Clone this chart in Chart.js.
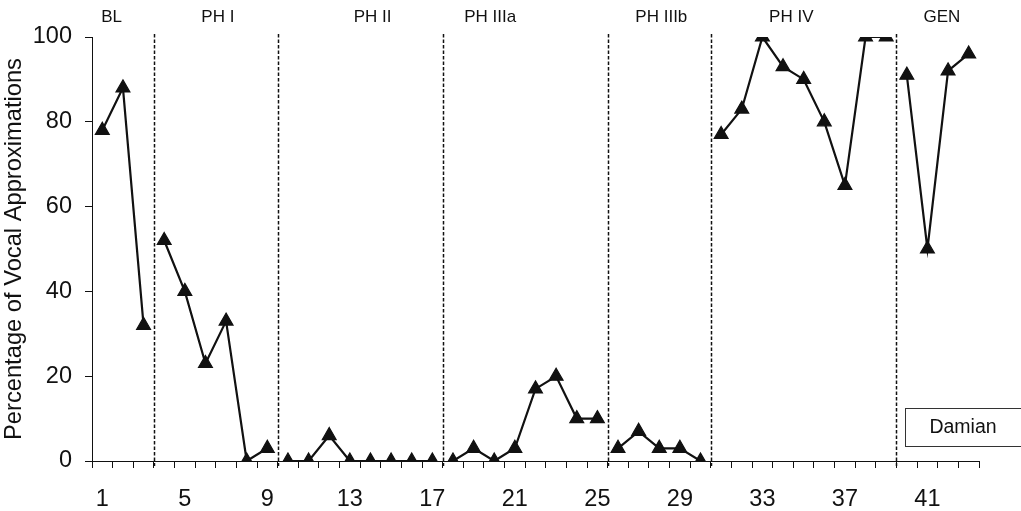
<!DOCTYPE html>
<html>
<head>
<meta charset="utf-8">
<title>Damian - Vocal Approximations</title>
<script src="https://cdn.jsdelivr.net/npm/chart.js@4/dist/chart.umd.min.js"></script>
<style>
  html, body { margin: 0; padding: 0; background: #fff; }
  #wrap { width: 1021px; height: 511px; position: relative; }
</style>
</head>
<body>
<div id="wrap"><canvas id="chart-vocal"></canvas></div>
<script>
// ===== DATA =====

const sessions = Array.from({ length: 43 }, (_, i) => String(i + 1));

const vocalPct = [
  78, 88, 32,                         // BL
  52, 40, 23, 33, 0, 3,               // PH I
  0, 0, 6, 0, 0, 0, 0, 0,             // PH II
  0, 3, 0, 3, 17, 20, 10, 10,         // PH IIIa
  3, 7, 3, 3, 0,                      // PH IIIb
  77, 83, 100, 93, 90, 80, 65, 100, 100, // PH IV
  91, 50, 92, 96                      // GEN
];

const phaseNames = ['BL', 'PH I', 'PH II', 'PH IIIa', 'PH IIIb', 'PH IV', 'GEN'];
const phaseEnds = [3, 9, 17, 25, 30, 39, 43];   // last session of each phase
const yTicks = [0, 20, 40, 60, 80, 100];
const participant = 'Damian';

// ===== BUILD =====

// one dataset per phase so the line breaks at each phase change
const datasets = phaseNames.map((name, p) => {
  const start = p === 0 ? 0 : phaseEnds[p - 1];
  const end = phaseEnds[p];
  return {
    label: name,
    data: vocalPct.map((v, i) => (i >= start && i < end ? v : null)),
    borderColor: '#111',
    borderWidth: 2.2,
    backgroundColor: '#111',
    pointStyle: 'triangle',
    pointRadius: 8,
    pointBorderWidth: 1.2,
    pointBackgroundColor: '#111',
    pointBorderColor: '#111',
    spanGaps: false,
    tension: 0
  };
});

const FONT = '"Liberation Sans", Arial, sans-serif';

// phase dividers, phase names and the participant box
const phasePlugin = {
  id: 'phases',
  afterDraw(chart) {
    const { ctx, chartArea, scales: { x } } = chart;
    const labelAt = [1.45, 6.6, 14.1, 19.8, 28.1, 34.4, 41.7];
    ctx.save();

    // dotted dividers between phases
    ctx.strokeStyle = '#111';
    ctx.lineWidth = 1.5;
    ctx.setLineDash([3.5, 2]);
    for (let p = 0; p < phaseEnds.length - 1; p++) {
      const xp = (x.getPixelForValue(phaseEnds[p] - 1) + x.getPixelForValue(phaseEnds[p])) / 2;
      ctx.beginPath();
      ctx.moveTo(Math.round(xp) + 0.5, chartArea.top - 3);
      ctx.lineTo(Math.round(xp) + 0.5, chartArea.bottom + 5);
      ctx.stroke();
    }
    ctx.setLineDash([]);

    // phase names
    ctx.fillStyle = '#111';
    ctx.font = '17px ' + FONT;
    ctx.textAlign = 'center';
    ctx.textBaseline = 'middle';
    phaseNames.forEach((name, p) => {
      ctx.fillText(name, x.getPixelForValue(labelAt[p] - 1), 17);
    });

    // participant box, running off the right edge
    const bx = chartArea.right - 74;
    const by = chartArea.bottom - 53;
    ctx.strokeStyle = '#333';
    ctx.lineWidth = 1;
    ctx.strokeRect(bx + 0.5, by + 0.5, 140, 38);
    ctx.font = '19.5px ' + FONT;
    ctx.fillText(participant, bx + 58, by + 20);

    ctx.restore();
  }
};

// ===== CHART =====

const ctx = document.getElementById('chart-vocal').getContext('2d');
new Chart(ctx, {
  type: 'line',
  data: { labels: sessions, datasets },
  plugins: [phasePlugin],
  options: {
    responsive: true,
    maintainAspectRatio: false,
    animation: false,
    layout: { padding: { top: 37, right: 42, left: 0, bottom: 0 } },
    plugins: {
      legend: { display: false },
      tooltip: { enabled: false }
    },
    scales: {
      x: {
        type: 'category',
        offset: true,
        border: { display: true, color: '#111', width: 1 },
        grid: {
          offset: true,
          drawOnChartArea: false,
          tickLength: 7,
          tickColor: '#111',
          tickWidth: 1
        },
        ticks: {
          autoSkip: false,
          maxRotation: 0,
          padding: 17,
          color: '#111',
          font: { family: FONT, size: 23.5 },
          callback(val, i) {
            return i % 4 === 0 ? this.getLabelForValue(val) : '';
          }
        },
        afterFit(s) { s.height = 50; }
      },
      y: {
        min: 0,
        max: 100,
        border: { display: true, color: '#111', width: 1 },
        grid: {
          drawOnChartArea: false,
          tickLength: 7,
          tickColor: '#111',
          tickWidth: 1
        },
        afterBuildTicks(s) { s.ticks = yTicks.map(v => ({ value: v })); },
        ticks: {
          padding: 13,
          color: '#111',
          font: { family: FONT, size: 23.5 }
        },
        title: {
          display: true,
          text: 'Percentage of Vocal Approximations',
          color: '#111',
          padding: { top: 0, bottom: 4 },
          font: { family: FONT, size: 23.7 }
        },
        afterFit(s) { s.width = 92; }
      }
    }
  }
});
</script>
</body>
</html>
